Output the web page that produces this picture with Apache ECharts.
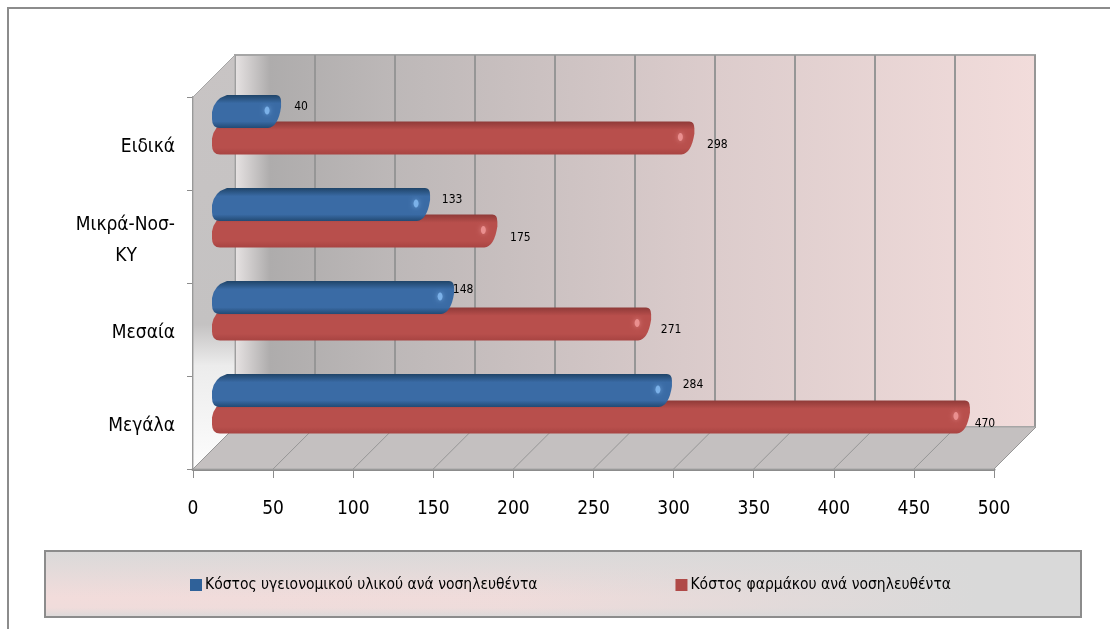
<!DOCTYPE html>
<html>
<head>
<meta charset="utf-8">
<script src="https://cdn.jsdelivr.net/npm/echarts@6/dist/echarts.min.js"></script>
<style>
  html, body { margin: 0; padding: 0; background: #fff; }
  #chart { width: 1110px; height: 629px; }
</style>
</head>
<body>
<div id="chart"></div>
<script>
var categories = ['Μεγάλα', 'Μεσαία', 'Μικρά-Νοσ-\nΚΥ', 'Ειδικά'];
var seriesNames = ['Κόστος υγειονομικού υλικού ανά νοσηλευθέντα', 'Κόστος φαρμάκου ανά νοσηλευθέντα'];
var materialCost = [284, 148, 133, 40];
var drugCost = [470, 271, 175, 298];
var xTicks = [0, 50, 100, 150, 200, 250, 300, 350, 400, 450, 500];

// fake 3D: back wall sits this far behind the front axes
var DEPTH_X = 42, DEPTH_Y = 42;
var FONT = '"DejaVu Sans Condensed", "Noto Sans Condensed", "Roboto Condensed", Roboto, sans-serif';

// label nudges next to each bar tip, same order as categories
var materialNudge = [[21, -6], [9, -8], [22, -5], [20, -5]];
var drugNudge = [[15, 7], [20, 6], [23, 7], [23, 7]];

function pipe(color, barOffset, nudge) {
  return function (params, api) {
    var i = api.value(2);
    var value = api.value(0);
    var p = api.coord([value, i]);
    var zero = api.coord([0, i]);
    var h = 33;
    var cy = p[1] + barOffset;
    var t = cy - h / 2, b = cy + h / 2;
    var x0 = zero[0] + 19;
    var tip = p[0] + 24;
    var d = 'M' + (x0 + 15) + ' ' + t +
      'L' + (tip - 5) + ' ' + t +
      'Q' + tip + ' ' + t + ' ' + tip + ' ' + (t + 7) +
      'L' + tip + ' ' + (t + 12) +
      'Q' + (tip - 3) + ' ' + (b - 1) + ' ' + (tip - 13) + ' ' + b +
      'L' + (x0 + 8) + ' ' + b +
      'Q' + x0 + ' ' + b + ' ' + x0 + ' ' + (b - 9) +
      'L' + x0 + ' ' + (t + 17) +
      'Q' + (x0 + 2) + ' ' + (t + 4) + ' ' + (x0 + 15) + ' ' + t + 'Z';
    return {
      type: 'group',
      children: [{
        type: 'path',
        shape: { pathData: d, layout: 'cover', x: x0, y: t, width: tip - x0, height: h },
        style: {
          fill: new echarts.graphic.LinearGradient(0, 0, 0, 1, [
            { offset: 0, color: color[0] },
            { offset: 0.25, color: color[1] },
            { offset: 0.8, color: color[1] },
            { offset: 1, color: color[2] }
          ])
        }
      }, {
        type: 'ellipse',
        shape: { cx: tip - 14, cy: cy - 1, rx: 2.5, ry: 4 },
        style: { fill: color[3], shadowBlur: 5, shadowColor: color[3] }
      }, {
        type: 'text',
        style: {
          text: String(value),
          x: tip + nudge[i][0],
          y: cy + nudge[i][1],
          align: 'center',
          verticalAlign: 'middle',
          font: '12px ' + FONT,
          fill: '#000'
        }
      }]
    };
  };
}

var option = {
  animation: false,
  backgroundColor: '#fff',
  graphic: [
    // chart frame, open at the bottom and right in the reference
    { type: 'polyline', z: -10, shape: { points: [[8, 629], [8, 8], [1110, 8]] }, style: { stroke: '#8c8c8c', lineWidth: 2, fill: null } },
    {
      type: 'rect', z: -6,
      shape: { x: 45, y: 551, width: 1036, height: 66 },
      style: {
        lineWidth: 2,
        stroke: '#8c8c8c',
        fill: new echarts.graphic.LinearGradient(0, 0, 0, 1, [
          { offset: 0, color: '#d9d9d9' },
          { offset: 0.7, color: '#f2dcdb' },
          { offset: 0.85, color: '#f0dcdb' },
          { offset: 1, color: '#d9d9d9' }
        ])
      }
    },
    {
      type: 'rect', z: -5,
      shape: { x: 46, y: 552, width: 1034, height: 64 },
      style: {
        fill: new echarts.graphic.LinearGradient(0, 0, 1, 0, [
          { offset: 0, color: 'rgba(217,217,217,0)' },
          { offset: 0.45, color: 'rgba(217,217,217,0.1)' },
          { offset: 0.9, color: 'rgba(217,217,217,1)' },
          { offset: 1, color: 'rgba(217,217,217,1)' }
        ])
      }
    }
  ],
  legend: {
    data: seriesNames,
    left: 185,
    top: 572,
    itemGap: 138,
    itemWidth: 12,
    itemHeight: 12,
    icon: 'rect',
    textStyle: { fontFamily: FONT, fontSize: 15.5, color: '#000', padding: [0, 0, 0, -2] }
  },
  grid: [
    { left: 193, right: 116, top: 97, bottom: 160 },
    {
      left: 235, right: 75, top: 55, bottom: 202, show: true, z: 0,
      borderColor: '#a6a6a6', borderWidth: 2,
      backgroundColor: new echarts.graphic.LinearGradient(0, 0, 1, 0, [
        { offset: 0, color: '#e8e4e4' },
        { offset: 0.045, color: '#aeacac' },
        { offset: 0.2, color: '#bdb8b8' },
        { offset: 0.6, color: '#dccccc' },
        { offset: 1, color: '#f2dcdb' }
      ])
    }
  ],
  xAxis: [{
    type: 'value',
    gridIndex: 0,
    min: 0,
    max: 500,
    interval: 50,
    splitLine: { show: false },
    axisLine: { show: true, lineStyle: { color: '#8c8c8c', width: 3 } },
    axisTick: { show: true, length: 9, lineStyle: { color: '#8c8c8c' } },
    axisLabel: { margin: 31, fontFamily: FONT, fontSize: 19, color: '#000' }
  }, {
    type: 'value',
    gridIndex: 1,
    min: 0,
    max: 500,
    interval: 50,
    axisLine: { show: false },
    axisTick: { show: false },
    axisLabel: { show: false },
    splitLine: { show: true, lineStyle: { color: '#969696', width: 2 } }
  }],
  yAxis: [{
    type: 'category',
    gridIndex: 0,
    data: categories,
    axisLine: { show: true, lineStyle: { color: '#8c8c8c', width: 2 } },
    axisTick: { show: true, length: 6, lineStyle: { color: '#8c8c8c' } },
    axisLabel: {
      margin: 18,
      fontFamily: FONT,
      fontSize: 19,
      color: '#000',
      lineHeight: 31,
      padding: [8, 0, 0, 0],
      formatter: function (v) {
        var parts = v.split('\n');
        return parts.length > 1 ? '{a|' + parts[0] + '}\n{b|' + parts[1] + '}' : v;
      },
      rich: {
        a: { fontFamily: FONT, fontSize: 19, lineHeight: 31 },
        b: { fontFamily: FONT, fontSize: 19, lineHeight: 31, padding: [0, 38, 0, 0] }
      }
    }
  }, {
    type: 'value',
    gridIndex: 1,
    show: false
  }],
  series: [{
    // floor and left wall, drawn from the main grid rectangle
    type: 'custom',
    name: 'walls',
    xAxisIndex: 0,
    yAxisIndex: 0,
    silent: true,
    z: 1,
    data: [0],
    renderItem: function (params) {
      var c = params.coordSys;
      var l = c.x, r = c.x + c.width, top = c.y, bot = c.y + c.height;
      return {
        type: 'group',
        children: [{
          type: 'polygon',
          shape: { points: [[l, bot], [r, bot], [r + DEPTH_X, bot - DEPTH_Y], [l + DEPTH_X, bot - DEPTH_Y]] },
          style: { fill: '#c4c0c0', stroke: '#a6a6a6', lineWidth: 1 }
        }, {
          type: 'polygon',
          shape: { points: [[l, bot], [l, top], [l + DEPTH_X, top - DEPTH_Y], [l + DEPTH_X, bot - DEPTH_Y]] },
          style: {
            stroke: '#a6a6a6',
            lineWidth: 1,
            fill: new echarts.graphic.LinearGradient(0, 0, 0, 1, [
              { offset: 0, color: '#c8c4c4' },
              { offset: 0.65, color: '#c4c2c2' },
              { offset: 0.75, color: '#ececec' },
              { offset: 1, color: '#fdfdfd' }
            ])
          }
        }]
      };
    }
  }, {
    // depth lines on the floor, one per tick
    type: 'custom',
    name: 'floor lines',
    xAxisIndex: 0,
    yAxisIndex: 0,
    silent: true,
    z: 1,
    data: xTicks.map(function (v) { return [v]; }),
    renderItem: function (params, api) {
      var c = params.coordSys;
      var x = api.coord([api.value(0), 0])[0];
      var bot = c.y + c.height;
      return {
        type: 'line',
        shape: { x1: x, y1: bot, x2: x + DEPTH_X, y2: bot - DEPTH_Y },
        style: { stroke: '#969696', lineWidth: 1 }
      };
    }
  }, {
    type: 'custom',
    name: seriesNames[1],
    xAxisIndex: 0,
    yAxisIndex: 0,
    z: 4,
    itemStyle: { color: '#b04a48' },
    encode: { x: 0, y: 1 },
    data: drugCost.map(function (v, i) { return [v, categories[i], i]; }),
    renderItem: pipe(['#8f3a38', '#b84f4c', '#a84442', 'rgba(240,150,150,0.85)'], -5.5, drugNudge)
  }, {
    type: 'custom',
    name: seriesNames[0],
    xAxisIndex: 0,
    yAxisIndex: 0,
    z: 5,
    itemStyle: { color: '#2f6199' },
    encode: { x: 0, y: 1 },
    data: materialCost.map(function (v, i) { return [v, categories[i], i]; }),
    renderItem: pipe(['#1f4468', '#3a6ba5', '#234a74', 'rgba(130,185,240,0.85)'], -32, materialNudge)
  }]
};

var myChart = echarts.init(document.getElementById('chart'), null, { renderer: 'canvas' });
myChart.setOption(option);
</script>
</body>
</html>
